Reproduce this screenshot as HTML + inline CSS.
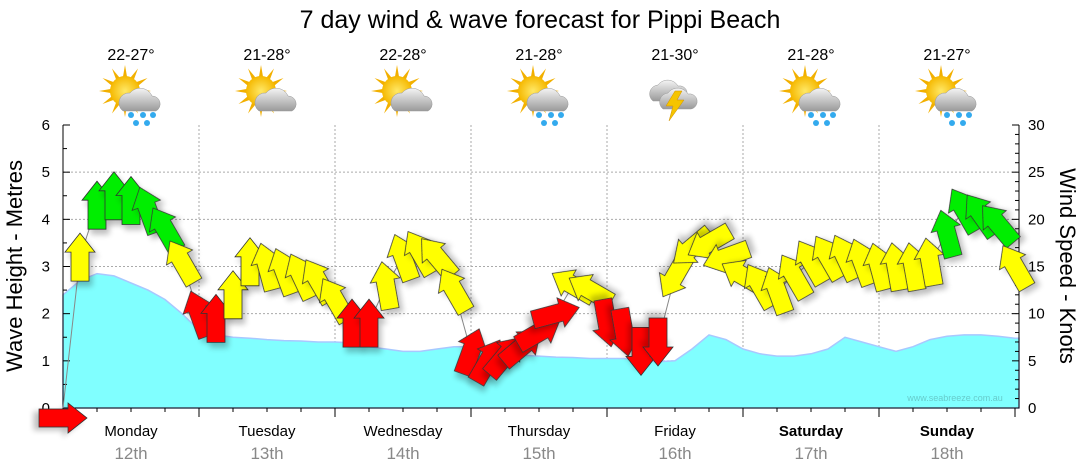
<!DOCTYPE html>
<html><head><meta charset="utf-8"><style>
html,body{margin:0;padding:0;background:#fff;}
svg{display:block;font-family:"Liberation Sans",sans-serif;}
</style></head><body>
<svg id="chart" width="1080" height="475" viewBox="0 0 1080 475" xmlns="http://www.w3.org/2000/svg">
<defs>
<filter id="sh" x="-50%" y="-50%" width="200%" height="200%"><feGaussianBlur in="SourceAlpha" stdDeviation="3"/><feOffset dx="3" dy="5"/><feComponentTransfer><feFuncA type="linear" slope="0.25"/></feComponentTransfer><feMerge><feMergeNode/><feMergeNode in="SourceGraphic"/></feMerge></filter>
<radialGradient id="sunG"><stop offset="0" stop-color="#ffe866"/><stop offset="1" stop-color="#f5b800"/></radialGradient>
<linearGradient id="cloudG" x1="0" y1="0" x2="0" y2="1"><stop offset="0" stop-color="#f4f4f4"/><stop offset="1" stop-color="#9a9a9a"/></linearGradient>
</defs>
<text x="540" y="28" text-anchor="middle" font-size="25" fill="#000">7 day wind &amp; wave forecast for Pippi Beach</text>
<g id="grid"></g>
<g id="waves"></g>
<g id="axes"></g>
<g id="wind"></g>
<g id="days"></g>
<text x="955" y="401" text-anchor="middle" font-size="9" fill="#66cccc">www.seabreeze.com.au</text>
<text transform="translate(22,266) rotate(-90)" text-anchor="middle" font-size="22">Wave Height - Metres</text>
<text transform="translate(1060,266) rotate(90)" text-anchor="middle" font-size="22">Wind Speed - Knots</text>
</svg>
<script>
const dayNames=["Monday","Tuesday","Wednesday","Thursday","Friday","Saturday","Sunday"];
const dayDates=["12th","13th","14th","15th","16th","17th","18th"];
const dayTemps=["22-27°","21-28°","22-28°","21-28°","21-30°","21-28°","21-27°"];
const dayIcons=["sunrain","suncloud","suncloud","sunrain","storm","sunrain","sunrain"];
const waveTicks=[0,1,2,3,4,5,6];
const windTicks=[0,5,10,15,20,25,30];
// 3-hourly series
const waveHeights=[2.4,2.7,2.85,2.8,2.65,2.5,2.3,2.0,1.65,1.55,1.5,1.48,1.45,1.43,1.42,1.4,1.4,1.38,1.3,1.25,1.2,1.2,1.25,1.3,1.3,1.25,1.15,1.12,1.1,1.08,1.07,1.05,1.05,1.05,1.0,0.98,1.0,1.25,1.55,1.45,1.25,1.15,1.1,1.1,1.15,1.25,1.5,1.4,1.3,1.2,1.3,1.45,1.52,1.55,1.55,1.52,1.48];
const windSpeeds=[0,16,21.5,22.5,22,21,19,15.5,10,9.5,12,15.5,15,14.5,14,13.5,11.5,9,9,13,16,16.5,16,12.5,6,5,5.5,6.5,8,10,13,12.5,9,8,6,7,14,17,17.5,16,14,13,12.5,14,15.5,16,16,15.5,15,15,15,15.5,18.5,21,20.5,19.5,15];
const windDirs=[90,0,0,0,0,-20,-30,-30,-20,0,0,0,-15,-20,-25,-30,-30,0,0,-10,-20,-30,-40,-30,20,30,40,50,60,75,-60,-60,170,170,180,180,210,230,240,250,-60,-30,-20,-30,-30,-30,-25,-20,-15,-10,-10,-10,-15,-30,-35,-40,-30];

const NS="http://www.w3.org/2000/svg";
const X0=63,X1=1019,Y0=408,Y1=125,DAYW=136,STEP=17;
const xi=i=>X0+STEP*i;
const yW=m=>Y0-(Y0-Y1)*m/6;
const yK=k=>Y0-(Y0-Y1)*k/30;
function el(tag,attrs,parent){const e=document.createElementNS(NS,tag);for(const k in attrs)e.setAttribute(k,attrs[k]);parent.appendChild(e);return e;}
const grid=document.getElementById('grid'),axes=document.getElementById('axes'),wv=document.getElementById('waves'),wd=document.getElementById('wind'),days=document.getElementById('days');

waveTicks.forEach(t=>{if(t>0&&t<6){const g=el('line',{x1:X0,x2:X1,y1:yW(t),y2:yW(t),stroke:'#aaa','stroke-dasharray':'2,2','stroke-width':1},grid);

}});
for(let d=1;d<7;d++){const g=el('line',{x1:X0+DAYW*d,x2:X0+DAYW*d,y1:Y1,y2:Y0,stroke:'#aaa','stroke-dasharray':'2,2','stroke-width':1},grid);

}

let d='M'+X0+','+Y0;
waveHeights.forEach((h,i)=>{d+=' L'+Math.min(xi(i),X1)+','+yW(h).toFixed(1);});
d+=' L'+X1+','+yW(waveHeights[waveHeights.length-1]).toFixed(1)+' L'+X1+','+Y0+' Z';
const area=el('path',{d:d,fill:'#80ffff',stroke:'#a8c8ff','stroke-width':1.5},wv);



const la=el('path',{d:`M${X0},${Y1} L${X0},${Y0} L${X1},${Y0} L${X1},${Y1}`,fill:'none',stroke:'#000','stroke-width':1},axes);


waveTicks.forEach(t=>{const tx=el('text',{x:50,y:yW(t)+5,'text-anchor':'end','font-size':15},axes);tx.textContent=t;


el('line',{x1:X0,x2:X0+7,y1:yW(t),y2:yW(t),stroke:'#000'},axes);
if(t<6)el('line',{x1:X0,x2:X0+4,y1:yW(t+0.5),y2:yW(t+0.5),stroke:'#000'},axes);});
windTicks.forEach(t=>{const tx=el('text',{x:1028,y:yK(t)+5,'font-size':15},axes);tx.textContent=t;


el('line',{x1:X1-7,x2:X1,y1:yK(t),y2:yK(t),stroke:'#000'},axes);
for(let m=1;m<5&&t<30;m++)el('line',{x1:X1-4,x2:X1,y1:yK(t+m),y2:yK(t+m),stroke:'#000'},axes);});
for(let i=0;i<=28;i++){const x=X0+34*i;const maj=i%4===0;el('line',{x1:x,x2:x,y1:Y0,y2:Y0+(maj?9:4),stroke:'#000'},axes);}

let wl='';windSpeeds.forEach((s,i)=>{wl+=(i?' L':'M')+xi(i)+','+yK(s).toFixed(1);});
const wline=el('path',{d:wl,fill:'none',stroke:'#888','stroke-width':1},wd);


const arrowPath='M-9,24 L-9,-5 L-15,-5 L0,-24 L15,-5 L9,-5 L9,24 Z';
windSpeeds.forEach((s,i)=>{
 const col=s<=10?'#ff0000':(s<18?'#ffff00':'#00ee00');
 const cy=i===0?yK(s)+10:yK(s);
 const a=el('path',{d:arrowPath,fill:col,stroke:'#333','stroke-width':0.8,filter:'url(#sh)',transform:`translate(${xi(i)},${cy.toFixed(1)}) rotate(${windDirs[i]})`},wd);
 
 
});

function icon(g,type,cx,cy){
 if(type!=='storm'){
  for(let k=0;k<12;k++){const ang=k*30*Math.PI/180;const r1=14,r2=26;
   el('polygon',{points:`${cx-6+Math.cos(ang-0.15)*r1},${cy-6+Math.sin(ang-0.15)*r1} ${cx-6+Math.cos(ang)*r2},${cy-6+Math.sin(ang)*r2} ${cx-6+Math.cos(ang+0.15)*r1},${cy-6+Math.sin(ang+0.15)*r1}`,fill:'#f2b000'},g);}
  el('circle',{cx:cx-6,cy:cy-6,r:15,fill:'url(#sunG)'},g);
  el('path',{d:`M${cx-8},${cy+14} a10,10 0 0 1 7,-18 a13,13 0 0 1 22,3 a8,8 0 0 1 4,15 Z`,fill:'url(#cloudG)',stroke:'#999','stroke-width':0.5},g);
  if(type==='sunrain'){[[cx+0,cy+18],[cx+12,cy+18],[cx+22,cy+18],[cx+5,cy+26],[cx+16,cy+26]].forEach(p=>el('circle',{cx:p[0],cy:p[1],r:3,fill:'#33aaee'},g));}
 } else {
  el('path',{d:`M${cx-22},${cy+4} a9,9 0 0 1 5,-16 a12,12 0 0 1 20,1 a7,7 0 0 1 3,15 Z`,fill:'url(#cloudG)',stroke:'#999','stroke-width':0.5},g);
  el('path',{d:`M${cx-12},${cy+12} a9,9 0 0 1 5,-16 a12,12 0 0 1 20,1 a7,7 0 0 1 3,15 Z`,fill:'url(#cloudG)',stroke:'#999','stroke-width':0.5},g);
  el('polygon',{points:`${cx},${cy-6} ${cx-9},${cy+9} ${cx-2},${cy+9} ${cx-6},${cy+24} ${cx+9},${cy+3} ${cx+2},${cy+3} ${cx+7},${cy-6}`,fill:'#f5c400',stroke:'#d09000','stroke-width':0.5},g);
 }
}
dayNames.forEach((n,i)=>{
 const cx=X0+DAYW*i+68;
 const t=el('text',{x:cx,y:436,'text-anchor':'middle','font-size':15,'font-weight':i>=5?'bold':'normal'},days);t.textContent=n;
 
 
 const dt=el('text',{x:cx,y:459,'text-anchor':'middle','font-size':17,fill:'#888'},days);dt.textContent=dayDates[i];
 
 
 const tp=el('text',{x:cx,y:60,'text-anchor':'middle','font-size':16},days);tp.textContent=dayTemps[i];
 
 
 const g=el('g',{},days);
 
 
 icon(g,dayIcons[i],cx,97);
});
</script>
</body></html>
